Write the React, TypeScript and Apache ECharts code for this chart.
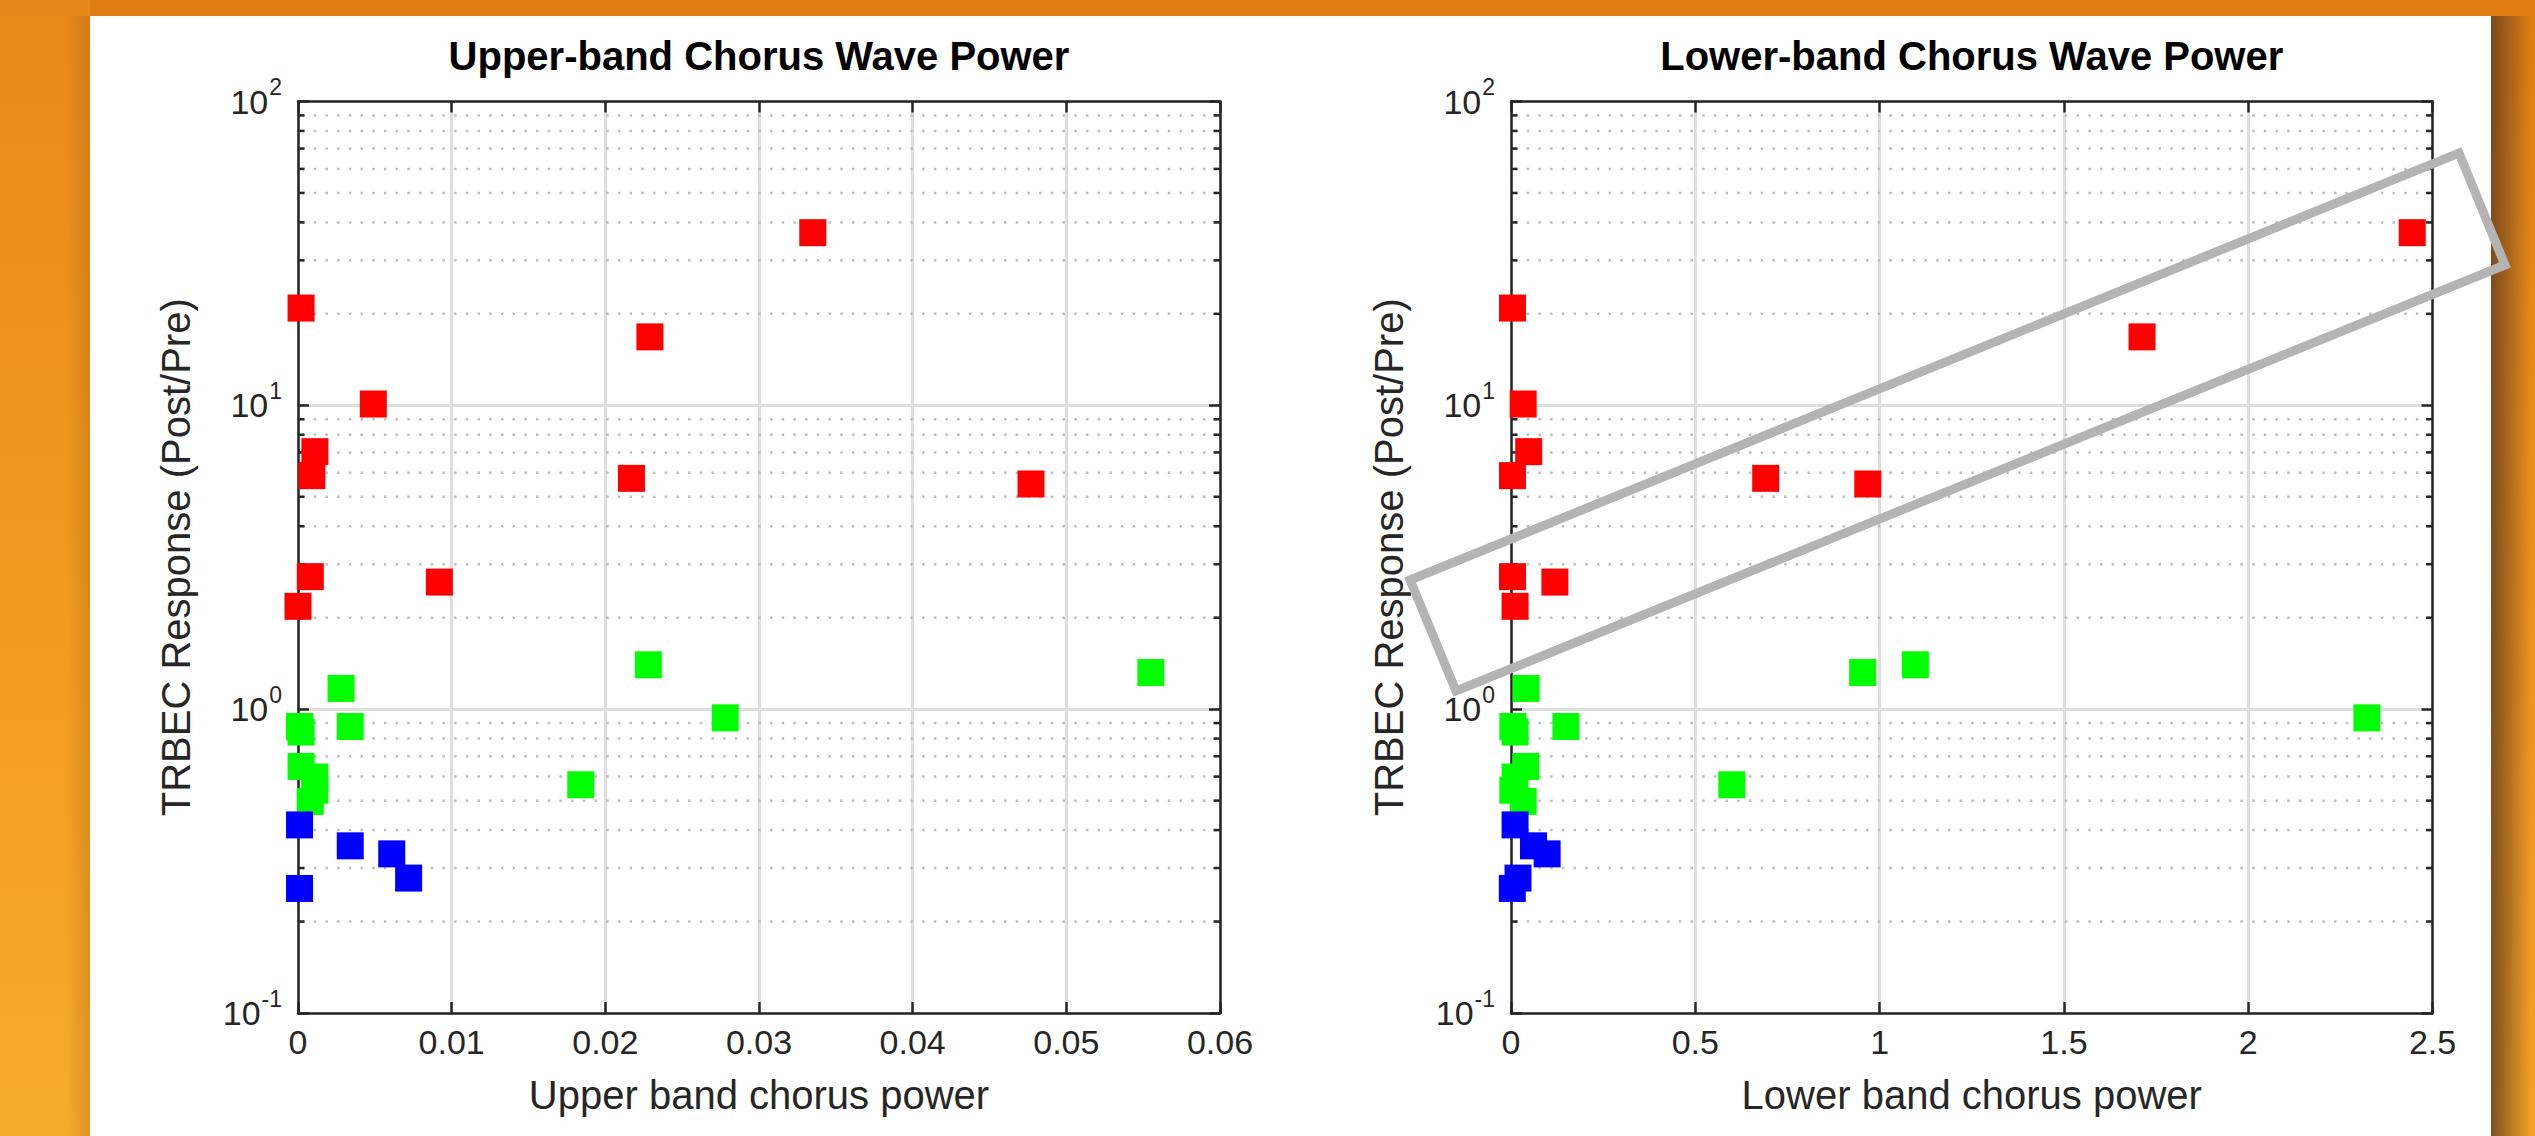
import React, { useEffect, useRef } from 'react';
import * as echarts from 'echarts';

const PAGE_W = 2535;
const PAGE_H = 1136;

// TRBEC response (post/pre ratio) for each event, grouped by response class,
// with the upper-band and lower-band chorus wave power of the same event.
const redResponse = [37.0, 20.9, 16.8, 10.1, 7.04, 5.87, 5.75, 5.51, 2.73, 2.62, 2.18];
const redUpper = [0.0335, 0.0002, 0.0229, 0.0049, 0.0011, 0.0009, 0.0217, 0.0477, 0.0008, 0.0092, 0.0];
const redLower = [2.445, 0.004, 1.712, 0.033, 0.048, 0.004, 0.691, 0.968, 0.004, 0.119, 0.011];

const greenResponse = [1.4, 1.32, 1.17, 0.936, 0.877, 0.841, 0.877, 0.648, 0.598, 0.541, 0.497, 0.564];
const greenUpper = [0.0228, 0.0555, 0.0028, 0.0278, 0.0001, 0.0002, 0.0034, 0.0002, 0.0011, 0.0011, 0.0008, 0.0184];
const greenLower = [1.097, 0.954, 0.041, 2.322, 0.005, 0.011, 0.149, 0.04, 0.011, 0.005, 0.033, 0.599];

const blueResponse = [0.416, 0.355, 0.334, 0.278, 0.257];
const blueUpper = [0.0001, 0.0034, 0.0061, 0.0072, 0.0001];
const blueLower = [0.011, 0.061, 0.098, 0.019, 0.0035];

// Axis ranges and labels
const upperRange = { min: 0, max: 0.06, interval: 0.01 };
const lowerRange = { min: 0, max: 2.5, interval: 0.5 };
const responseRange = { min: 0.1, max: 100 };
const minorLevels = [
  0.2, 0.3, 0.4, 0.5, 0.6, 0.7, 0.8, 0.9,
  2, 3, 4, 5, 6, 7, 8, 9,
  20, 30, 40, 50, 60, 70, 80, 90,
];
const titles = ['Upper-band Chorus Wave Power', 'Lower-band Chorus Wave Power'];
const xNames = ['Upper band chorus power', 'Lower band chorus power'];
const yName = 'TRBEC Response (Post/Pre)';

const FONT = '"Liberation Sans", Arial, Helvetica, sans-serif';
const AXIS_DARK = '#262626';
const GRID_GRAY = '#DEDEDE';
const DOT_GRAY = '#BDBDBD';

const grids = [
  { left: 298, top: 101.5, width: 922, height: 911.5 },
  { left: 1511, top: 101.5, width: 921.5, height: 911.5 },
];

function xAxesFor(gridIndex: number, range: { min: number; max: number; interval: number }, name: string) {
  const line = { show: true, onZero: false, lineStyle: { color: AXIS_DARK, width: 2.5 } };
  const tick = { show: true, inside: true, length: 11, lineStyle: { color: AXIS_DARK, width: 2.5 } };
  return [
    {
      gridIndex,
      type: 'value',
      position: 'bottom',
      ...range,
      name,
      nameLocation: 'middle',
      nameGap: 62,
      nameTextStyle: { fontSize: 40, color: AXIS_DARK, fontFamily: FONT },
      axisLine: line,
      axisTick: tick,
      axisLabel: {
        fontSize: 34,
        color: AXIS_DARK,
        fontFamily: FONT,
        margin: 12,
        formatter: (v: number) => String(Number(v.toFixed(4))),
      },
      splitLine: { show: true, lineStyle: { color: GRID_GRAY, width: 3 } },
    },
    {
      gridIndex,
      type: 'value',
      position: 'top',
      ...range,
      axisLine: line,
      axisTick: tick,
      axisLabel: { show: false },
      splitLine: { show: false },
    },
  ];
}

function yAxesFor(gridIndex: number) {
  const line = { show: true, onZero: false, lineStyle: { color: AXIS_DARK, width: 2.5 } };
  const tick = { show: true, inside: true, length: 11, lineStyle: { color: AXIS_DARK, width: 2.5 } };
  return [
    {
      gridIndex,
      type: 'log',
      logBase: 10,
      position: 'left',
      ...responseRange,
      name: yName,
      nameLocation: 'middle',
      nameGap: 102,
      nameTextStyle: { fontSize: 40, color: AXIS_DARK, fontFamily: FONT },
      axisLine: line,
      axisTick: tick,
      axisLabel: {
        margin: 16,
        color: AXIS_DARK,
        fontFamily: FONT,
        formatter: (v: number) => `{b|10}{s|${Math.round(Math.log10(v))}}`,
        rich: {
          b: { fontSize: 34, lineHeight: 34, color: AXIS_DARK, fontFamily: FONT, verticalAlign: 'bottom' },
          s: {
            fontSize: 23,
            lineHeight: 23,
            color: AXIS_DARK,
            fontFamily: FONT,
            verticalAlign: 'bottom',
            padding: [0, 0, 20, 1],
          },
        },
      },
      splitLine: { show: true, lineStyle: { color: GRID_GRAY, width: 3 } },
    },
    {
      gridIndex,
      type: 'log',
      logBase: 10,
      position: 'right',
      ...responseRange,
      axisLine: line,
      axisTick: tick,
      axisLabel: { show: false },
      splitLine: { show: false },
    },
  ];
}

// Dotted minor grid lines with short inward ticks on both side axes
function minorGridSeries(xAxisIndex: number, yAxisIndex: number, xMin: number) {
  return {
    type: 'custom',
    xAxisIndex,
    yAxisIndex,
    z: 1,
    silent: true,
    data: minorLevels.map((v) => [xMin, v]),
    renderItem: (params: any, api: any) => {
      const cs = params.coordSys;
      const y = api.coord([xMin, api.value(1)])[1];
      const x0 = cs.x;
      const x1 = cs.x + cs.width;
      return {
        type: 'group',
        children: [
          {
            type: 'line',
            shape: { x1: x0 + 4, y1: y, x2: x1, y2: y },
            style: { stroke: DOT_GRAY, lineWidth: 2.5, lineDash: [2.5, 9.2] },
          },
          {
            type: 'line',
            shape: { x1: x0, y1: y, x2: x0 + 6.5, y2: y },
            style: { stroke: AXIS_DARK, lineWidth: 2.5 },
          },
          {
            type: 'line',
            shape: { x1: x1 - 6.5, y1: y, x2: x1, y2: y },
            style: { stroke: AXIS_DARK, lineWidth: 2.5 },
          },
        ],
      };
    },
  };
}

function scatter(xAxisIndex: number, yAxisIndex: number, xs: number[], ys: number[], color: string) {
  return {
    type: 'scatter',
    xAxisIndex,
    yAxisIndex,
    z: 3,
    clip: false,
    symbol: 'rect',
    symbolSize: 27,
    itemStyle: { color, opacity: 1 },
    emphasis: { disabled: true },
    data: xs.map((x, i) => [x, ys[i]]),
  };
}

function buildOption() {
  return {
    animation: false,
    backgroundColor: 'transparent',
    textStyle: { fontFamily: FONT },
    title: titles.map((text, i) => ({
      text,
      left: grids[i].left + grids[i].width / 2,
      top: 36,
      padding: 0,
      textAlign: 'center',
      textStyle: { fontSize: 40, fontWeight: 'bold', color: '#000', fontFamily: FONT },
    })),
    grid: grids.map((g) => ({ ...g, containLabel: false })),
    xAxis: [...xAxesFor(0, upperRange, xNames[0]), ...xAxesFor(1, lowerRange, xNames[1])],
    yAxis: [...yAxesFor(0), ...yAxesFor(1)],
    series: [
      minorGridSeries(0, 0, upperRange.min),
      minorGridSeries(2, 2, lowerRange.min),
      scatter(0, 0, redUpper, redResponse, '#FF0000'),
      scatter(0, 0, greenUpper, greenResponse, '#00FF00'),
      scatter(0, 0, blueUpper, blueResponse, '#0000FF'),
      scatter(2, 2, redLower, redResponse, '#FF0000'),
      scatter(2, 2, greenLower, greenResponse, '#00FF00'),
      scatter(2, 2, blueLower, blueResponse, '#0000FF'),
    ],
    graphic: [
      {
        // highlight band around the rising lower-band trend
        type: 'polygon',
        z: 100,
        silent: true,
        shape: {
          points: [
            [1410, 580],
            [2459, 153],
            [2505, 265],
            [1456, 691],
          ],
        },
        style: { fill: 'none', stroke: '#B4B4B4', lineWidth: 9, lineJoin: 'miter' },
      },
    ],
  };
}

export default function App() {
  const ref = useRef<HTMLDivElement>(null);

  useEffect(() => {
    document.body.style.margin = '0';
    if (!ref.current) return;
    const chart = echarts.init(ref.current, null, { renderer: 'svg' });
    chart.setOption(buildOption() as any);
    return () => chart.dispose();
  }, []);

  return (
    <div
      style={{
        position: 'fixed',
        left: 0,
        top: 0,
        width: PAGE_W,
        height: PAGE_H,
        overflow: 'hidden',
        background: 'linear-gradient(to bottom, #DE7C12 0%, #E98E1A 40%, #F3A225 100%)',
      }}
    >
      <div
        style={{
          position: 'absolute',
          left: 0,
          top: 0,
          width: 90,
          height: PAGE_H,
          background: 'linear-gradient(to bottom, #E8881A 0%, #F09A20 50%, #F7AB2A 100%)',
        }}
      />
      <div
        style={{
          position: 'absolute',
          left: 66,
          top: 16,
          width: 24,
          height: PAGE_H - 16,
          background: 'linear-gradient(to left, rgba(150,80,10,0.25), rgba(150,80,10,0))',
        }}
      />
      <div
        style={{
          position: 'absolute',
          left: 90,
          top: 16,
          width: 2401,
          height: PAGE_H - 16,
          background: '#FFFFFF',
        }}
      />
      <div
        style={{
          position: 'absolute',
          left: 2491,
          top: 16,
          width: 40,
          height: PAGE_H - 16,
          background: 'linear-gradient(to right, rgba(105,65,30,0.85), rgba(105,65,30,0))',
        }}
      />
      <div ref={ref} style={{ position: 'absolute', left: 0, top: 0, width: PAGE_W, height: PAGE_H }} />
    </div>
  );
}
